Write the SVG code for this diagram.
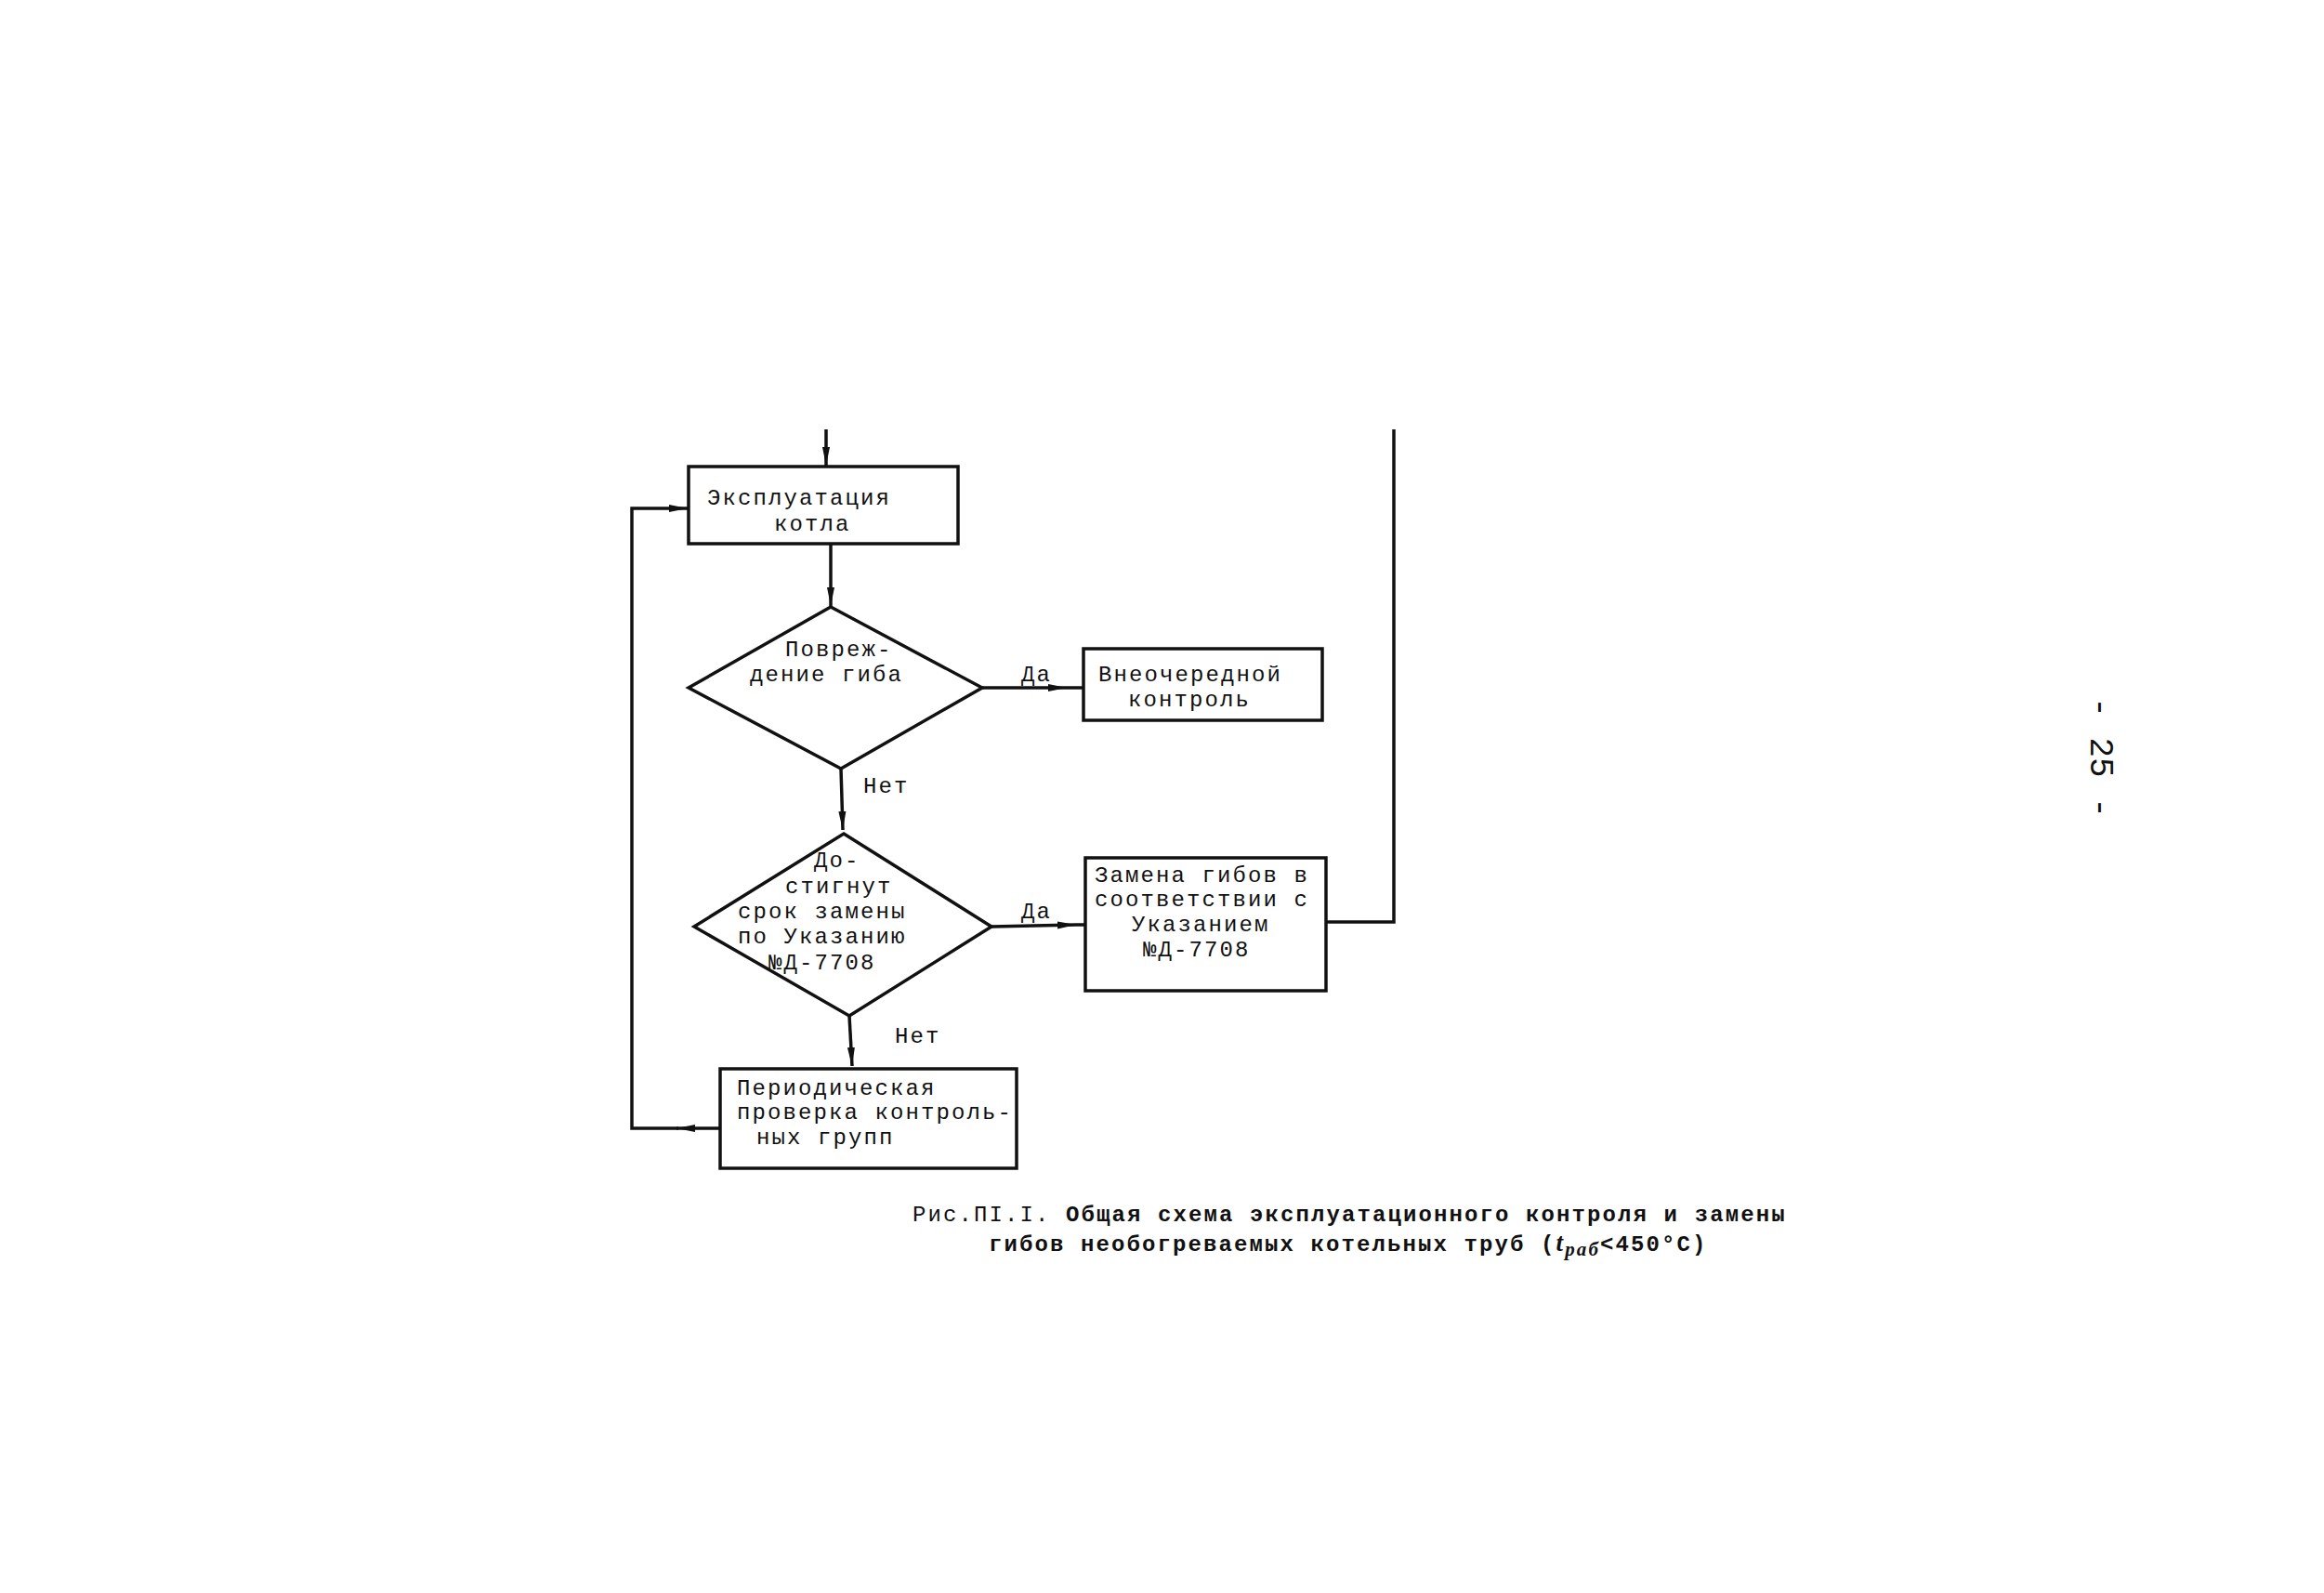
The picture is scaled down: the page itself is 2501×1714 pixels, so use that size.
<svg xmlns="http://www.w3.org/2000/svg" width="2501" height="1714" viewBox="0 0 2501 1714">
<style>
.shape{fill:none;stroke:#111;stroke-width:3.5}
.conn{fill:none;stroke:#111;stroke-width:3.5}
.t{font-family:"Liberation Mono","DejaVu Sans Mono",monospace;font-size:24px;letter-spacing:2.1px;fill:#111}
.cap{font-family:"Liberation Mono","DejaVu Sans Mono",monospace;font-size:24px;letter-spacing:2.1px;fill:#111;font-weight:bold}
</style>
<defs>
<marker id="ah" markerWidth="22" markerHeight="10" refX="20" refY="5" orient="auto" markerUnits="userSpaceOnUse">
<path d="M0,1 L20,5 L0,9 Z" fill="#111"/>
</marker>
</defs>
<rect width="2501" height="1714" fill="#fff"/>

<g id="connectors">
<path class="conn" d="M889,462 L889,501" marker-end="url(#ah)"/>
<path class="conn" d="M894,585 L894,652" marker-end="url(#ah)"/>
<path class="conn" d="M1057,740 L1148,740" marker-end="url(#ah)"/>
<path class="conn" d="M1148,740 L1166,740"/>
<path class="conn" d="M905,827 L907,893" marker-end="url(#ah)"/>
<path class="conn" d="M1067,997 L1158,995" marker-end="url(#ah)"/>
<path class="conn" d="M1158,995 L1168,995"/>
<path class="conn" d="M914,1093 L917,1147" marker-end="url(#ah)"/>
<path class="conn" d="M1427,992 L1500,992 L1500,462"/>
<path class="conn" d="M775,1214 L728,1214" marker-end="url(#ah)"/>
<path class="conn" d="M730,1214 L680,1214 L680,547 L740,547" marker-end="url(#ah)"/>
<text class="t" x="1099" y="733">Да</text>
<text class="t" x="929" y="853">Нет</text>
<text class="t" x="1099" y="988">Да</text>
<text class="t" x="963" y="1122">Нет</text>
</g>

<g id="node-operation">
<rect class="shape" x="741" y="502" width="290" height="83"/>
<text class="t" x="761" y="543">Эксплуатация</text>
<text class="t" x="833" y="571">котла</text>
</g>

<g id="node-damage">
<polygon class="shape" points="894,653 1057,740 905,827 741,740"/>
<text class="t" x="845" y="706">Повреж-</text>
<text class="t" x="807" y="733">дение гиба</text>
</g>

<g id="node-extra-control">
<rect class="shape" x="1166" y="698" width="257" height="77"/>
<text class="t" x="1182" y="733">Внеочередной</text>
<text class="t" x="1214" y="760">контроль</text>
</g>

<g id="node-term">
<polygon class="shape" points="908,897 1067,997 914,1093 747,997"/>
<text class="t" x="876" y="933">До-</text>
<text class="t" x="845" y="961">стигнут</text>
<text class="t" x="794" y="988">срок замены</text>
<text class="t" x="794" y="1015">по Указанию</text>
<text class="t" x="827" y="1043">№Д-7708</text>
</g>

<g id="node-replace">
<rect class="shape" x="1168" y="923" width="259" height="143"/>
<text class="t" x="1178" y="949">Замена гибов в</text>
<text class="t" x="1178" y="975">соответствии с</text>
<text class="t" x="1218" y="1002">Указанием</text>
<text class="t" x="1230" y="1029">№Д-7708</text>
</g>

<g id="node-periodic">
<rect class="shape" x="775" y="1150" width="319" height="107"/>
<text class="t" x="793" y="1178">Периодическая</text>
<text class="t" x="793" y="1204">проверка контроль-</text>
<text class="t" x="814" y="1231">ных групп</text>
</g>

<g id="caption">
<text class="cap" x="982" y="1314"><tspan font-weight="normal">Рис.ПI.I.</tspan> Общая схема эксплуатационного контроля и замены</text>
<text class="cap" x="1064" y="1346">гибов необогреваемых котельных труб (<tspan font-style="italic" font-family="Liberation Serif, serif" font-size="27">t</tspan><tspan font-style="italic" font-family="Liberation Serif, serif" font-size="21" dy="5">раб</tspan><tspan dy="-5">&lt;450°C)</tspan></text>
</g>

<g id="page-number">
<text class="t" x="2262" y="815" text-anchor="middle" transform="rotate(90 2262 815)" dy="12" style="font-size:36px;letter-spacing:0">- 25 -</text>
</g>
</svg>
